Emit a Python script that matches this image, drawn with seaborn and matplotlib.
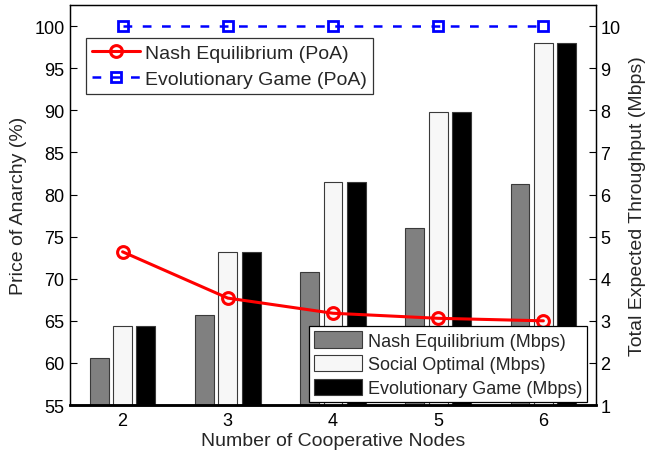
import matplotlib
matplotlib.use("Agg")
import matplotlib.pyplot as plt
import seaborn as sns
import pandas as pd

nodes = [2, 3, 4, 5, 6]
poa_nash = [73.2, 67.7, 65.9, 65.3, 65.0]
poa_evo = [100, 100, 100, 100, 100]
thr_nash = [2.12, 3.13, 4.17, 5.21, 6.26]
thr_social = [2.87, 4.64, 6.30, 7.97, 9.61]
thr_evo = [2.87, 4.64, 6.30, 7.95, 9.61]
bar_labels = ["Nash Equilibrium (Mbps)", "Social Optimal (Mbps)", "Evolutionary Game (Mbps)"]
line_labels = ["Nash Equilibrium (PoA)", "Evolutionary Game (PoA)"]

sns.set_style("ticks")
plt.rcParams["font.family"] = ["Liberation Sans", "DejaVu Sans"]
plt.rcParams["font.size"] = 13

df = pd.DataFrame({
    "nodes": nodes * 3,
    "thr": thr_nash + thr_social + thr_evo,
    "series": [bar_labels[0]] * 5 + [bar_labels[1]] * 5 + [bar_labels[2]] * 5,
})

fig = plt.figure(figsize=(6.45, 4.56), dpi=100)
ax = fig.add_axes([0.1085, 0.1096, 0.8155, 0.877])

palette = {bar_labels[0]: "#808080", bar_labels[1]: "#f7f7f7", bar_labels[2]: "#000000"}
sns.barplot(data=df, x="nodes", y="thr", hue="series", palette=palette,
            native_scale=True, width=0.667, gap=0.19, ax=ax,
            edgecolor="#3a3a3a", linewidth=0.8, saturation=1)
handles, labels = ax.get_legend_handles_labels()
if ax.get_legend() is not None:
    ax.get_legend().remove()

ax2 = ax.twinx()

ax.set_xlim(1.5, 6.5)
ax.set_xticks(nodes)
ax.set_xticklabels([str(n) for n in nodes])
ax.set_ylim(1, 10 + 2.5 / 45 * 9)
ax.set_yticks(range(1, 11))
ax.yaxis.tick_right()
ax.yaxis.set_label_position("right")
ax.set_ylabel("Total Expected Throughput (Mbps)", fontsize=14, labelpad=6)
ax.set_xlabel("Number of Cooperative Nodes", fontsize=14, labelpad=2)

sns.lineplot(x=nodes, y=poa_nash, ax=ax2, color="red", marker="o", mfc="none",
             mec="red", ms=8.5, mew=2.2, lw=2.2, label=line_labels[0])
sns.lineplot(x=nodes, y=poa_evo, ax=ax2, color="blue", marker="s", mfc="none",
             mec="blue", ms=6.5, mew=2, lw=1.8, linestyle=(0, (3.5, 4.2)),
             label=line_labels[1])
ax2.set_ylim(55, 102.5)
ax2.set_yticks(range(55, 101, 5))
ax2.yaxis.tick_left()
ax2.yaxis.set_label_position("left")
ax2.set_ylabel("Price of Anarchy (%)", fontsize=14, labelpad=5)

ax.tick_params(axis="x", direction="in", labelsize=13, length=5, width=0.8, colors="black", pad=5)
ax.tick_params(axis="y", direction="in", labelsize=13, length=5, width=0.8, colors="black", pad=3)
ax2.tick_params(axis="y", direction="in", labelsize=13, length=5, width=0.8, colors="black", pad=4)
for a in (ax, ax2):
    for s in a.spines.values():
        s.set_visible(True)
        s.set_color("black")
        s.set_linewidth(0.9)
ax.spines["bottom"].set_linewidth(1.8)
ax2.spines["bottom"].set_linewidth(1.8)

leg1 = ax2.legend(loc="upper left", bbox_to_anchor=(0.03, 0.9175), fontsize=14,
                  frameon=True, fancybox=False, edgecolor="black",
                  handlelength=2.5, handletextpad=0.25, borderpad=0.3,
                  labelspacing=0.45, borderaxespad=0)
leg1.get_frame().set_linewidth(0.9)
ax2.add_artist(leg1)
leg2 = ax2.legend(handles, labels, loc="lower right", bbox_to_anchor=(0.983, 0.0075),
                  fontsize=13, frameon=True, fancybox=False, edgecolor="black",
                  handlelength=2.67, handleheight=1.0, handletextpad=0.3,
                  borderpad=0.28, labelspacing=0.3, borderaxespad=0)
leg2.get_frame().set_linewidth(0.9)
leg2.get_frame().set_alpha(1)

fig.savefig("out.png", dpi=100)
